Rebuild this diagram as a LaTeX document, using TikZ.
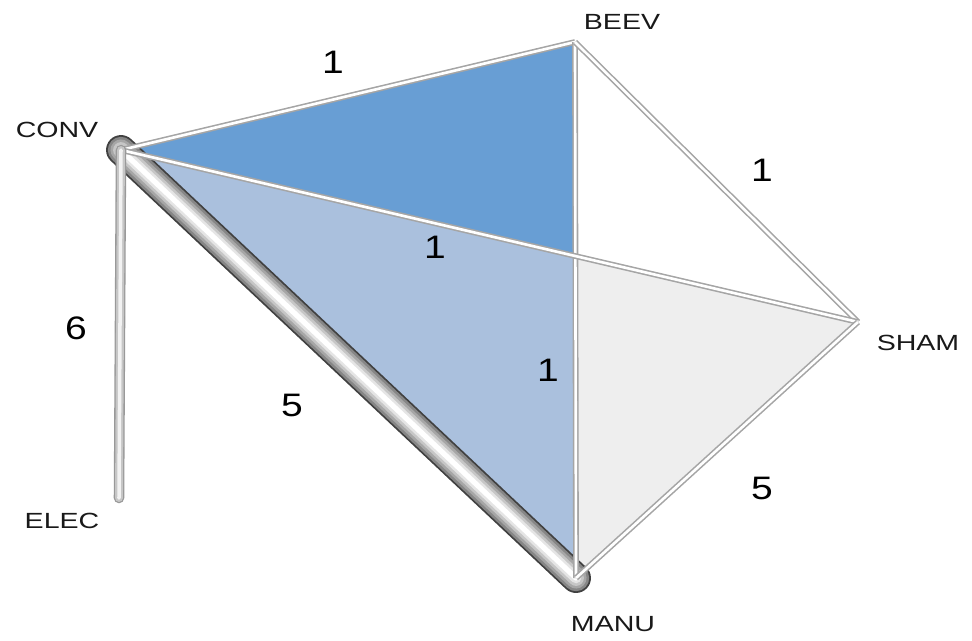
\documentclass[tikz,border=0pt]{standalone}
\usepackage{fontspec}
\setmainfont{Liberation Sans}
\newfontfamily\namefont[FakeStretch=1.3]{Liberation Sans}
\newfontfamily\weightfont[FakeStretch=1.2]{Liberation Sans}
\usepackage{xcolor}
\usepackage{tikz}

\definecolor{darkfill}{RGB}{104,158,212}
\definecolor{lightfill}{RGB}{170,192,221}
\definecolor{greyfill}{RGB}{238,238,238}
\definecolor{edgegrey}{RGB}{165,165,165}

\tikzset{
  edge/.style={draw=edgegrey, line width=0.9pt, double=white, double distance=1.5pt},
  vname/.style={font=\namefont\fontsize{12.5}{15}\selectfont, text=black!90},
  weight/.style={font=\weightfont\fontsize{18.5}{22}\selectfont}
}

\begin{document}
\begin{tikzpicture}[x=0.02cm, y=-0.02cm]
\useasboundingbox (0,0) rectangle (972,640);

\coordinate (conv) at (121,150);
\coordinate (beev) at (575,42);
\coordinate (sham) at (858,322);
\coordinate (manu) at (576,578);
\coordinate (elec) at (119,498);
\coordinate (mid) at (intersection of conv--sham and beev--manu);

% facets
\fill[darkfill] (conv) -- (beev) -- (mid) -- cycle;
\fill[lightfill] (conv) -- (mid) -- (manu) -- cycle;
\fill[greyfill] (mid) -- (sham) -- (manu) -- cycle;

% heavy edge
\foreach \w/\c in {17/black!75, 15/gray!95, 12/gray!70, 9/gray!45, 6/gray!20, 3/white}
  \draw[line width=\w pt, \c, line cap=round] (conv) -- (manu);

\draw[edge] (conv) -- (beev);
\draw[edge] (beev) -- (manu);
\draw[edge] (beev) -- (sham);
\draw[edge] (conv) -- (sham);
\draw[edge] (sham) -- (manu);

\foreach \w/\c in {6/gray!80, 4.5/gray!45, 2/gray!10}
  \draw[line width=\w pt, \c, line cap=round] (conv) -- (elec);

% names
\node[vname] (convname) at (57,130) {CONV};
\node[vname] (beevname) at (622,22) {BEEV};
\node[vname] (shamname) at (918,343) {SHAM};
\node[vname] (manuname) at (613,624) {MANU};
\node[vname] (elecname) at (62,521) {ELEC};

% weights
\node[weight] (w1) at (333,62) {1};
\node[weight] (w2) at (762,170) {1};
\node[weight] (w3) at (435,247) {1};
\node[weight] (w4) at (548,370) {1};
\node[weight] (w5) at (76,328) {6};
\node[weight] (w6) at (292,405) {5};
\node[weight] (w7) at (762,488) {5};

\end{tikzpicture}
\end{document}
